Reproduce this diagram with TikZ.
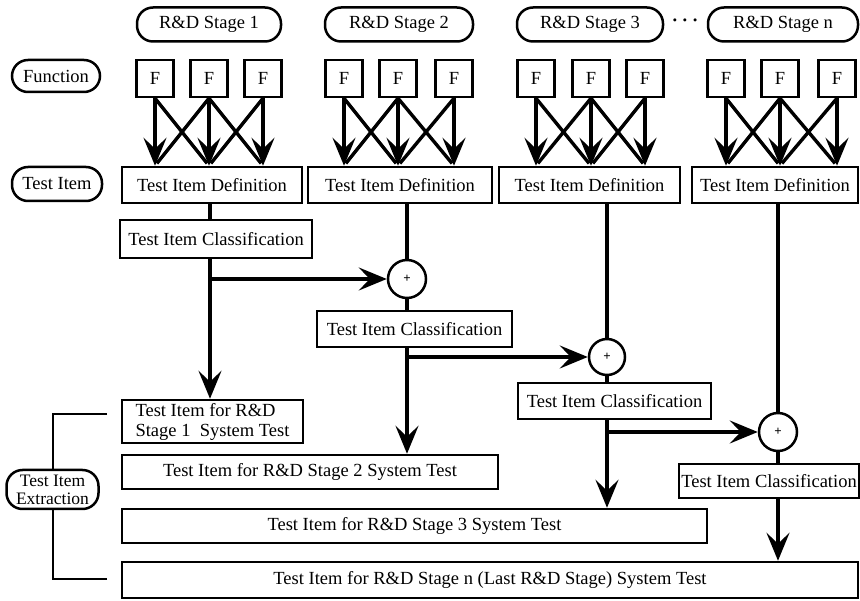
\documentclass[tikz,border=0pt]{standalone}
\usepackage{fontspec}
\setmainfont{Liberation Serif}
\usetikzlibrary{arrows.meta}
\begin{document}
\begin{tikzpicture}[x=1pt,y=-1pt,
  every node/.style={font=\fontsize{18.5}{20}\selectfont, inner sep=0pt},
  pill/.style={draw, line width=2.5pt, rounded corners=16pt, minimum height=34pt},
  fbox/.style={draw, line width=2.5pt, minimum width=37pt, minimum height=37pt},
  box/.style={draw, line width=2.5pt, minimum height=36pt},
  sum/.style={draw, circle, line width=2.5pt, minimum size=38pt, font=\fontsize{13}{13}\selectfont\bfseries},
  flow/.style={line width=3.4pt},
  arr/.style={flow, -{Stealth[length=28pt,width=23pt,inset=11pt]}},
  bracket/.style={line width=2pt},
]
\fill[white] (0,0) rectangle (860,601);
\useasboundingbox (0,0) rectangle (860,601);

% stage headers
\node[pill, minimum width=144pt] (s1) at (209,24.5) {R\&D Stage 1};
\node[pill, minimum width=148pt] (s2) at (399,24.5) {R\&D Stage 2};
\node[pill, minimum width=146pt] (s3) at (590,24.5) {R\&D Stage 3};
\node[pill, minimum width=150pt] (sn) at (783,24.5) {R\&D Stage n};
\node (dots) at (685,23) {\textbf{·\hspace{4pt}·\hspace{4pt}·}};

% row labels
\node[pill, minimum width=88pt, minimum height=32pt] (func) at (56,76) {Function};
\node[pill, minimum width=90pt] (titem) at (57,184) {Test Item};

% function boxes
\foreach \s/\xa/\xb/\xc in {1/155/209/263, 2/344/398/454, 3/536/591/645, n/726/780/837} {
  \node[fbox] (f\s1) at (\xa,78.5) {F};
  \node[fbox] (f\s2) at (\xb,78.5) {F};
  \node[fbox] (f\s3) at (\xc,78.5) {F};
}

% test item definitions
\node[box, minimum width=180pt] (d1) at (212,185) {Test Item Definition};
\node[box, minimum width=184pt] (d2) at (400,185) {Test Item Definition};
\node[box, minimum width=181pt] (d3) at (589.5,185) {Test Item Definition};
\node[box, minimum width=166pt] (dn) at (775,185) {Test Item Definition};

% functions feed the definitions
\foreach \s in {1,2,3,n} {
  \draw[arr] (f\s1.south) -- (f\s1 |- d\s.north);
  \draw[arr] (f\s2.south) -- (f\s2 |- d\s.north);
  \draw[arr] (f\s3.south) -- (f\s3 |- d\s.north);
  \draw[flow, shorten >=3pt] (f\s1.south) -- (f\s2 |- d\s.north);
  \draw[flow, shorten >=3pt] (f\s2.south) -- (f\s1 |- d\s.north);
  \draw[flow, shorten >=3pt] (f\s2.south) -- (f\s3 |- d\s.north);
  \draw[flow, shorten >=3pt] (f\s3.south) -- (f\s2 |- d\s.north);
}

% classifications and merge points
\node[box, minimum width=192pt, minimum height=38pt] (c1) at (216,239) {Test Item Classification};
\node[box, minimum width=195pt] (c2) at (414.5,329) {Test Item Classification};
\node[box, minimum width=193pt] (c3) at (614.5,401) {Test Item Classification};
\node[box, minimum width=180pt, minimum height=34pt] (cn) at (769,481) {Test Item Classification};

\node[sum] (o1) at (407,279) {+};
\node[sum, minimum size=36pt] (o2) at (607,357) {+};
\node[sum] (o3) at (778,432) {+};

% system test item sets
\node[box, minimum width=181pt, minimum height=43pt, align=left] (tb1) at (212.5,421.5) {Test Item for R\&D\\Stage 1\ \ System Test};
\node[box, minimum width=376pt, minimum height=34pt] (tb2) at (310,472) {Test Item for R\&D Stage 2 System Test};
\node[box, minimum width=585pt, minimum height=34pt] (tb3) at (414.5,526) {Test Item for R\&D Stage 3 System Test};
\node[box, minimum width=736pt, minimum height=36pt] (tbn) at (490,580) {Test Item for R\&D Stage n (Last R\&D Stage) System Test};

% stage 1 flow
\coordinate (k1) at (210,279);
\draw[flow] (k1 |- d1.south) -- (k1 |- c1.north);
\draw[arr] (k1 |- c1.south) -- (k1 |- tb1.north);
\draw[arr] (k1) -- (o1.west);

% stage 2 flow
\draw[flow] (o1 |- d2.south) -- (o1.north);
\draw[flow] (o1.south) -- (o1 |- c2.north);
\draw[arr] (o1 |- c2.south) -- (o1 |- tb2.north);
\draw[arr] (o1 |- o2) -- (o2.west);

% stage 3 flow
\draw[flow] (o2 |- d3.south) -- (o2.north);
\draw[flow] (o2.south) -- (o2 |- c3.north);
\draw[arr] (o2 |- c3.south) -- (o2 |- tb3.north);
\draw[arr] (o2 |- o3) -- (o3.west);

% stage n flow
\draw[flow] (o3 |- dn.south) -- (o3.north);
\draw[flow] (o3.south) -- (o3 |- cn.north);
\draw[arr] (o3 |- cn.south) -- (o3 |- tbn.north);

% extraction bracket
\node[pill, minimum width=92pt, minimum height=39pt, align=center, font=\fontsize{17.5}{18}\selectfont] (ex) at (52.5,489.5) {Test Item\\Extraction};
\coordinate (bt) at (107,414);
\coordinate (bb) at (107,579);
\draw[bracket] (bt) -| (ex.north);
\draw[bracket] (bb) -| (ex.south);
\end{tikzpicture}
\end{document}
